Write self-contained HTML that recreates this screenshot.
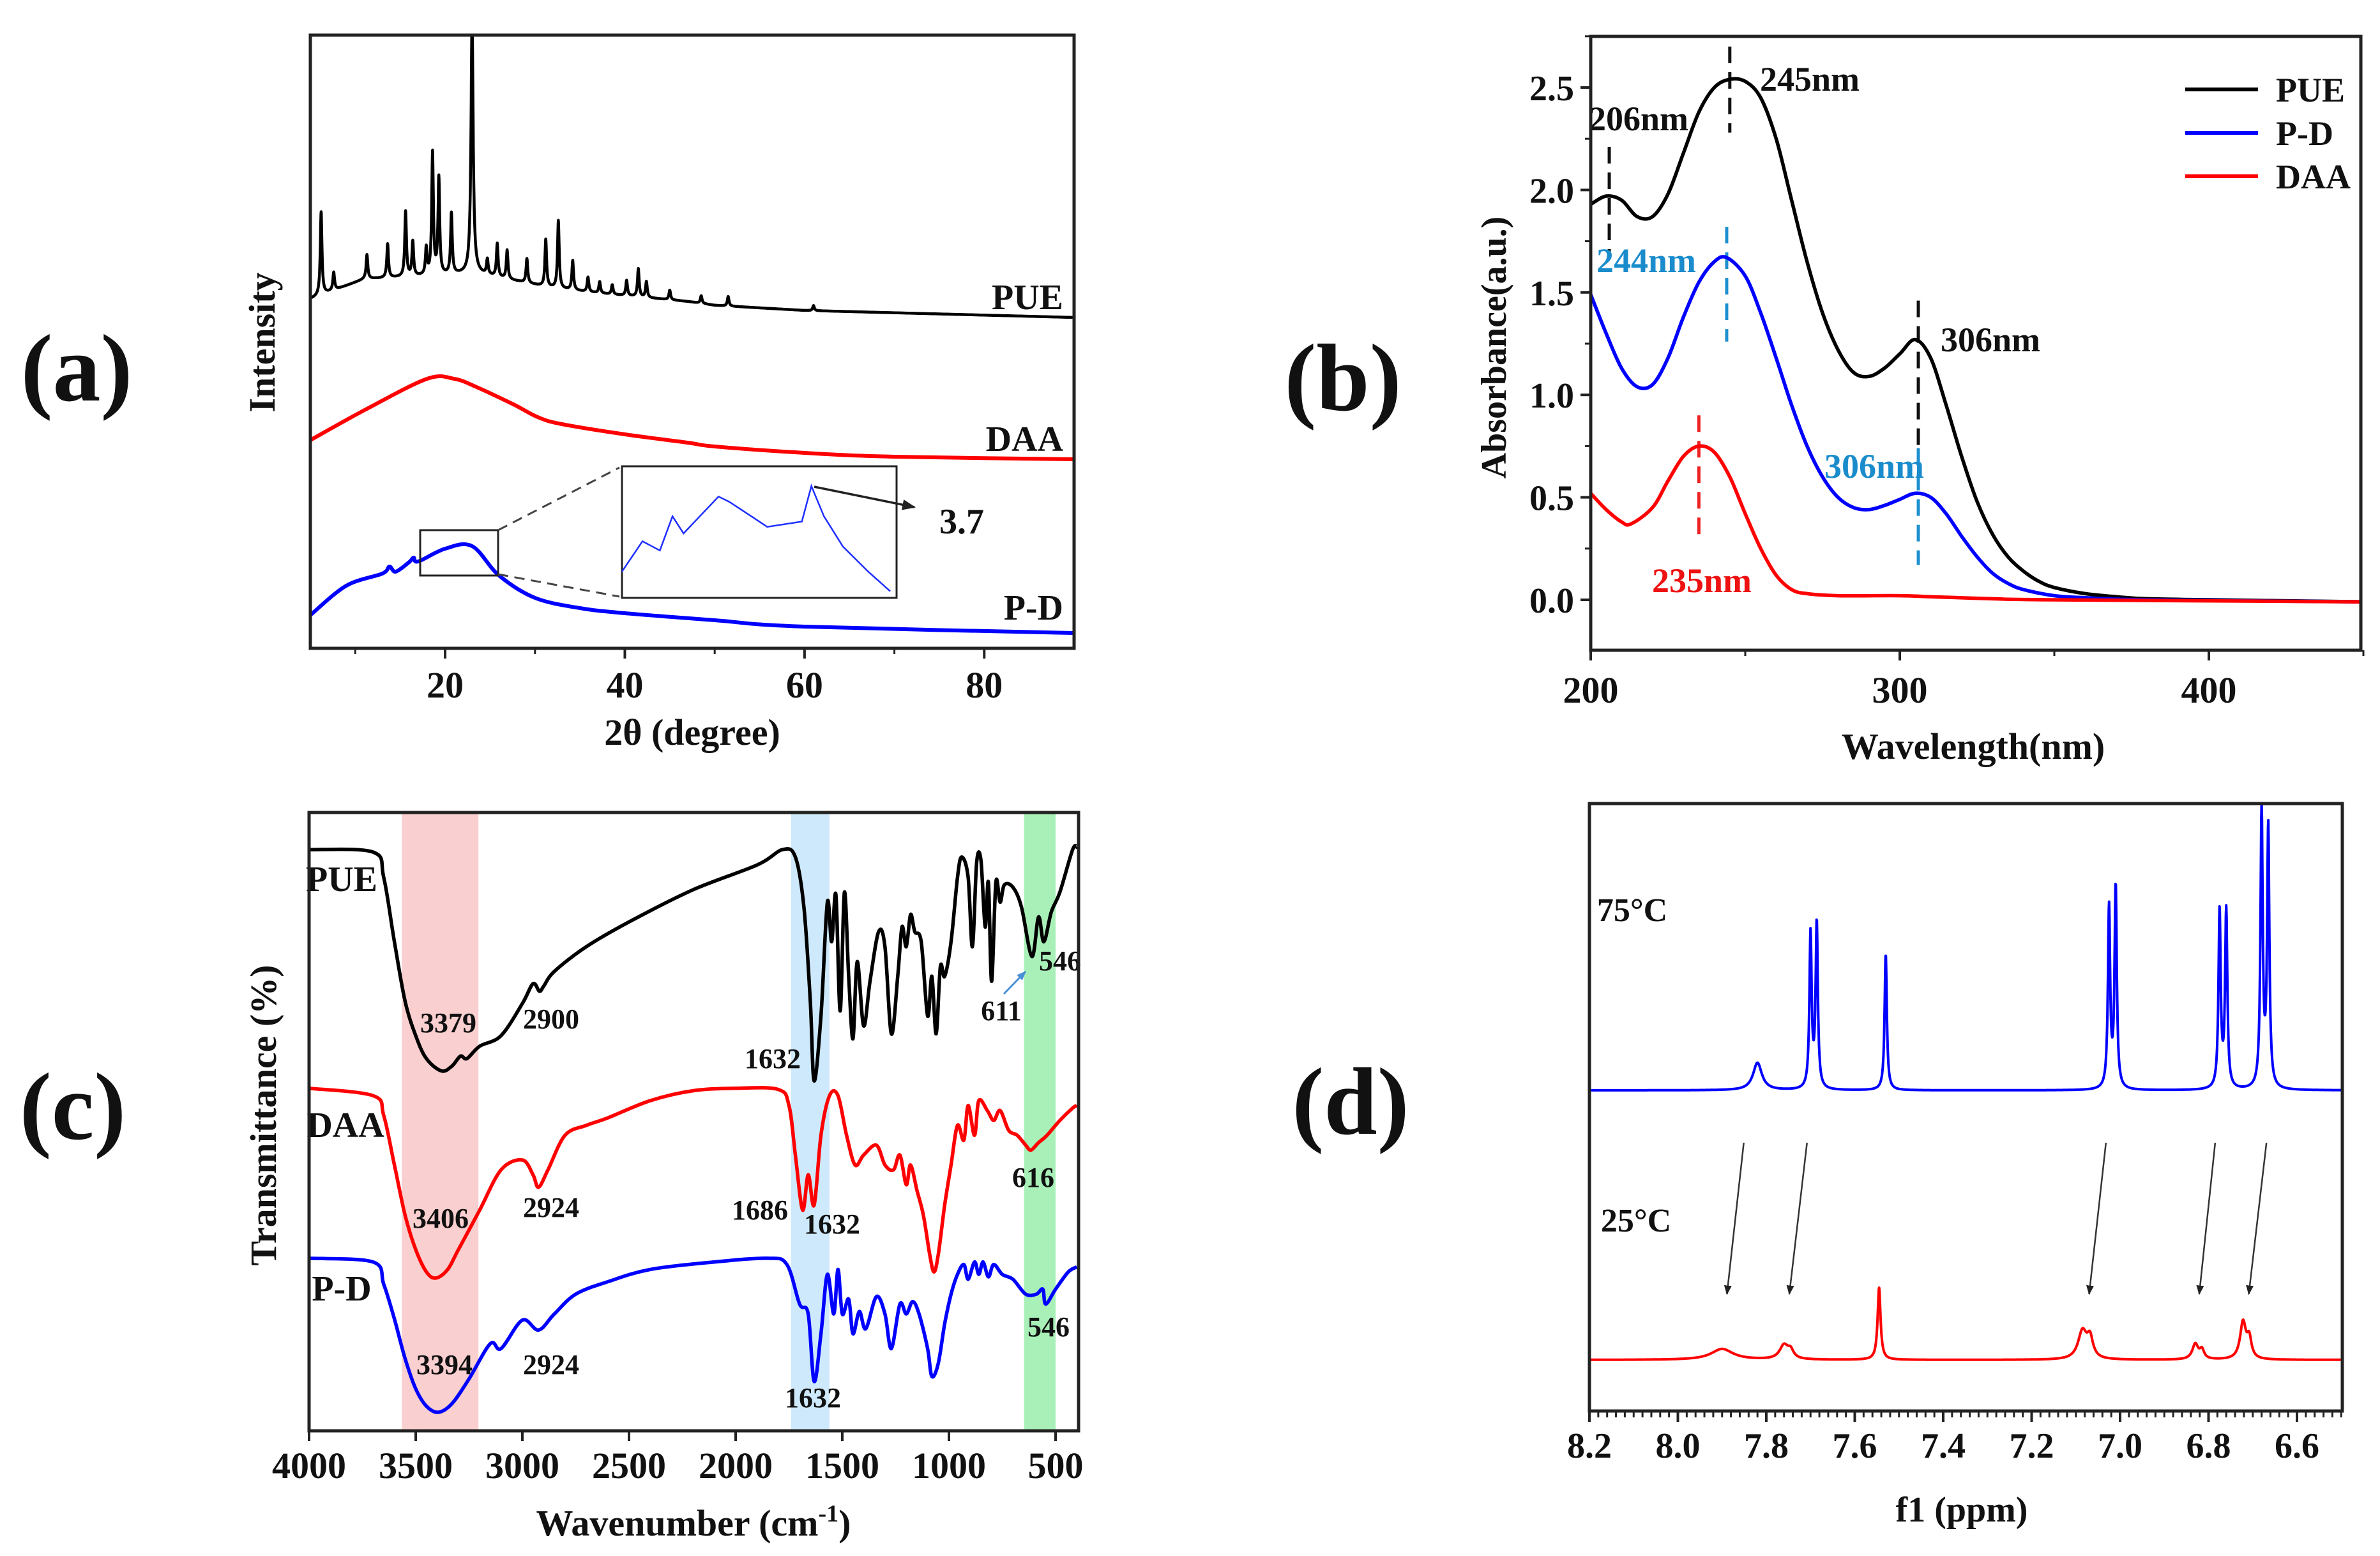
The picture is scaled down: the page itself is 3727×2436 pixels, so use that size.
<!DOCTYPE html>
<html><head><meta charset="utf-8"><title>Figure</title>
<style>
html,body{margin:0;padding:0;background:#fff;}
svg{display:block;font-family:"Liberation Serif",serif;font-weight:bold;}
</style></head>
<body>
<svg id="fig" xmlns="http://www.w3.org/2000/svg" width="3727" height="2436" viewBox="0 0 3727 2436">
<defs>
<clipPath id="clipA"><rect x="486" y="55" width="1196" height="960"/></clipPath>
<clipPath id="clipB"><rect x="2491" y="57" width="1206" height="961"/></clipPath>
<clipPath id="clipC"><rect x="484" y="1272" width="1205" height="968"/></clipPath>
<clipPath id="clipD"><rect x="2489" y="1258" width="1179" height="951"/></clipPath>
<marker id="arrK" viewBox="0 0 10 10" refX="9" refY="5" markerWidth="6" markerHeight="6" orient="auto"><path d="M0,1 L10,5 L0,9 z" fill="#222"/></marker>
<marker id="arrB" viewBox="0 0 10 10" refX="9" refY="5" markerWidth="5" markerHeight="5" orient="auto"><path d="M0,1 L10,5 L0,9 z" fill="#4a90d9"/></marker>
</defs>
</svg>
<script>
// ---------- Panel (a) XRD data ----------
const aTicks = [20, 40, 60, 80];
const aMinor = [10, 30, 50, 70];
const pueBaseDeg = [5, 11, 18, 23.5, 31.5, 37, 47, 50, 60, 90];
const pueBaseVal = [547, 578, 583, 587, 565, 556, 543, 537, 529, 518];
const puePeakPos = [6.2, 7.6, 11.3, 13.6, 15.6, 16.4, 17.9, 18.6, 19.3, 20.7, 23.0, 24.7, 25.8, 26.9, 29.1, 31.2, 32.6, 34.2, 35.9, 37.2, 38.6, 40.2, 41.5, 42.4, 45, 48.5, 51.5, 61];
const puePeakH   = [130, 28, 38, 53, 102, 54, 42, 191, 151, 95, 400, 24, 52, 45, 38, 74, 106, 46, 23, 18, 15, 24, 44, 25, 15, 12, 15, 8];
const daaDeg = [5, 11.3, 18, 21, 23.5, 27.6, 30.3, 33, 40, 47, 50, 60, 70, 90];
const daaVal = [326, 375, 422, 422, 409, 382, 362, 351, 335, 322, 316, 306, 300, 296];
const pdDeg = [5, 9, 13, 13.8, 14.5, 16, 16.5, 17, 20, 23, 26, 30, 35, 40, 50, 60, 90];
const pdVal = [52, 98, 117, 128, 120, 135, 142, 136, 156, 160, 114, 79, 63, 55, 44, 34, 24];
const insetDeg = [17.0, 17.65, 18.2, 18.6, 18.95, 20.06, 20.4, 21.1, 21.6, 22.7, 23.0, 23.4, 24.0, 24.8, 25.5];
const insetVal = [20, 43, 36, 62, 49, 77, 73, 62, 54, 58, 85, 62, 39, 20, 5];

// ---------- Panel (b) UV data ----------
const bYTicks = [0.0, 0.5, 1.0, 1.5, 2.0, 2.5];
const bXTicks = [200, 300, 400];
const pueWl = [200,205,210,215,220,225,230,235,240,245,250,255,260,265,270,275,280,285,290,295,300,305,310,315,320,325,330,335,340,345,350,360,370,380,400,450];
const pueAbs = [1.93,1.97,1.95,1.87,1.87,1.98,2.18,2.38,2.50,2.54,2.53,2.45,2.25,1.95,1.65,1.40,1.22,1.11,1.09,1.13,1.20,1.27,1.18,0.95,0.70,0.48,0.32,0.21,0.14,0.09,0.06,0.03,0.015,0.005,0,-0.01];
const pdWl = [200,205,210,215,220,225,230,235,240,244,250,255,260,265,270,275,280,285,290,295,300,305,310,315,320,325,330,335,340,350,360,380,450];
const pdAbs = [1.49,1.30,1.13,1.04,1.05,1.18,1.38,1.55,1.65,1.67,1.58,1.40,1.18,0.95,0.75,0.60,0.50,0.45,0.44,0.46,0.49,0.52,0.50,0.42,0.31,0.21,0.13,0.08,0.05,0.02,0.01,0,-0.01];
const daaWl = [200,205,210,213,220,225,230,235,240,245,250,255,260,265,270,280,300,310,330,350,450];
const daaAbs = [0.52,0.44,0.38,0.37,0.45,0.58,0.70,0.75,0.72,0.60,0.42,0.25,0.12,0.05,0.03,0.02,0.02,0.015,0.005,0,-0.01];

// ---------- Panel (c) FTIR data ----------
const cTicks = [4000, 3500, 3000, 2500, 2000, 1500, 1000, 500];
const irPueWn = [4000,3700,3650,3600,3550,3500,3450,3379,3330,3290,3260,3200,3100,3000,2950,2920,2900,2850,2700,2500,2200,1900,1780,1720,1680,1650,1632,1600,1570,1550,1530,1510,1490,1470,1450,1430,1400,1370,1330,1300,1270,1240,1220,1200,1180,1160,1130,1100,1080,1060,1040,1020,990,960,940,910,890,870,850,830,815,800,780,760,740,700,660,611,580,555,520,480,420,400];
const irPueT = [94.0,93.6,89.5,79.1,69.5,63.9,60.2,58.2,59.0,60.6,60.2,62.2,63.9,69.1,72.3,71.1,71.9,74.3,78.3,82.3,87.5,91.5,94.0,92.8,84.7,69.5,56.6,67.1,85.5,79.1,86.7,67.9,87.1,73.5,63.4,75.9,65.5,72.7,80.7,78.3,64.2,73.5,81.5,78.3,83.5,80.7,79.1,67.1,73.5,64.2,75.1,73.5,79.1,89.5,92.8,89.5,78.3,91.9,92.3,81.5,88.7,72.7,88.7,85.5,88.3,87.9,84.7,76.7,83.1,79.1,83.9,87.1,94.0,94.4];
const irDaaWn = [4000,3700,3650,3600,3550,3500,3450,3406,3350,3300,3200,3100,3000,2950,2924,2880,2800,2700,2600,2400,2200,2000,1800,1750,1720,1686,1660,1632,1600,1560,1520,1480,1440,1400,1340,1300,1260,1230,1200,1180,1150,1120,1090,1070,1050,1020,990,960,930,910,880,860,820,790,760,720,680,640,616,580,540,480,420,400];
const irDaaT = [55.4,54.2,51.0,43.0,34.9,29.3,25.7,24.7,26.1,29.3,35.7,42.2,43.8,41.4,39.4,42.2,47.8,49.4,50.6,53.4,55.0,55.4,55.2,52.6,44.6,35.7,41.4,36.5,47.8,54.2,54.2,47.8,43.0,44.6,46.2,43.0,42.2,44.6,39.8,43.0,38.9,34.9,28.5,25.7,28.5,36.5,43.0,49.4,47.0,52.6,47.8,53.4,51.8,50.2,51.8,48.6,47.8,46.2,45.4,46.6,47.8,50.2,52.2,52.6];
const irPdWn = [4000,3700,3650,3600,3550,3500,3450,3394,3330,3250,3150,3100,3000,2924,2850,2750,2600,2400,2100,1850,1760,1700,1660,1632,1600,1570,1540,1520,1500,1470,1450,1420,1390,1340,1300,1270,1230,1200,1170,1140,1100,1080,1050,1020,990,960,930,910,880,860,840,815,790,750,700,640,590,560,546,500,440,400];
const irPdT = [27.9,27.3,23.7,18.1,11.7,6.8,4.0,3.0,4.4,8.4,14.1,13.3,17.9,16.3,18.9,22.1,24.1,26.1,27.3,27.9,26.9,20.5,18.9,8.0,15.7,25.3,18.9,26.1,18.9,21.3,15.7,19.3,16.5,21.7,18.9,13.3,20.5,18.9,20.9,18.9,13.3,8.8,10.9,17.3,22.1,25.3,26.9,24.5,27.3,25.3,27.3,24.9,26.9,25.3,24.5,22.1,22.1,22.9,20.5,22.9,25.7,26.5];

// ---------- Panel (d) NMR data ----------
const dTicks = [8.2, 8.0, 7.8, 7.6, 7.4, 7.2, 7.0, 6.8, 6.6];
const hotPos = [7.82, 7.700, 7.686, 7.530, 7.025, 7.010, 6.775, 6.760, 6.680, 6.665];
const hotH   = [43, 242, 260, 214, 284, 317, 278, 278, 435, 408];
const hotW   = [0.012, 0.003, 0.003, 0.003, 0.003, 0.003, 0.003, 0.003, 0.003, 0.003];
const coldPos = [7.90, 7.76, 7.745, 7.545, 7.085, 7.068, 6.83, 6.815, 6.722, 6.708];
const coldH   = [17, 22, 12, 113, 44, 30, 24, 14, 58, 30];
const coldW   = [0.03, 0.012, 0.008, 0.004, 0.012, 0.008, 0.008, 0.006, 0.008, 0.006];
const hotOffset = 502;
const coldOffset = 80;
const arrowFrom = [7.851, 7.708, 7.032, 6.785, 6.669];
const arrowTo   = [7.889, 7.748, 7.070, 6.821, 6.709];

// ---------- helpers ----------
const NS = 'http://www.w3.org/2000/svg';
const svg = document.getElementById('fig');
function mk(tag, attrs, parent) {
  const e = document.createElementNS(NS, tag);
  for (const k in attrs) e.setAttribute(k, attrs[k]);
  (parent || svg).appendChild(e);
  return e;
}
function txt(s, x, y, size, anchor, fill, parent) {
  const t = mk('text', {x: x, y: y, 'font-size': size, 'text-anchor': anchor || 'middle', fill: fill || '#111'}, parent);
  t.textContent = s;
  return t;
}
function interp(xs, ys, x) {
  if (x <= xs[0]) return ys[0];
  for (let i = 1; i < xs.length; i++) {
    if (x <= xs[i]) { const t = (x - xs[i-1]) / (xs[i] - xs[i-1]); return ys[i-1] + t * (ys[i] - ys[i-1]); }
  }
  return ys[ys.length - 1];
}
function crPath(pts) {
  let d = 'M' + pts[0][0].toFixed(1) + ',' + pts[0][1].toFixed(1);
  for (let i = 0; i < pts.length - 1; i++) {
    const p0 = pts[i-1] || pts[i], p1 = pts[i], p2 = pts[i+1], p3 = pts[i+2] || p2;
    const c1 = [p1[0] + (p2[0]-p0[0])/6, p1[1] + (p2[1]-p0[1])/6];
    const c2 = [p2[0] - (p3[0]-p1[0])/6, p2[1] - (p3[1]-p1[1])/6];
    d += 'C' + c1[0].toFixed(1) + ',' + c1[1].toFixed(1) + ' ' + c2[0].toFixed(1) + ',' + c2[1].toFixed(1) + ' ' + p2[0].toFixed(1) + ',' + p2[1].toFixed(1);
  }
  return d;
}
function polyPath(pts) {
  return 'M' + pts.map(p => p[0].toFixed(1) + ',' + p[1].toFixed(1)).join('L');
}

// ================= Panel (a) =================
const gA = mk('g', {});


const xA = d => 486 + (d - 5) * (1196 / 85);
const yA = v => 1015 - v;
const lblA = txt('(a)', 120, 627, 150, 'middle', '#111', gA);



const gAc = mk('g', {'clip-path': 'url(#clipA)'}, gA);
let puePts = [];
for (let d = 5; d <= 90.001; d += 0.02) {
  let v = interp(pueBaseDeg, pueBaseVal, d);
  for (let i = 0; i < puePeakPos.length; i++) {
    const w = puePeakPos[i] === 23.0 ? 0.14 : 0.11;
    const u = (d - puePeakPos[i]) / w;
    v += puePeakH[i] / (1 + u * u);
  }
  puePts.push([xA(d), yA(v)]);
}
const pueA = mk('path', {d: polyPath(puePts), fill: 'none', stroke: '#000', 'stroke-width': 4.5, 'stroke-linejoin': 'round'}, gAc);


const daaA = mk('path', {d: crPath(daaDeg.map((d, i) => [xA(d), yA(daaVal[i])])), fill: 'none', stroke: '#ff0000', 'stroke-width': 6}, gAc);


const pdA = mk('path', {d: crPath(pdDeg.map((d, i) => [xA(d), yA(pdVal[i])])), fill: 'none', stroke: '#0000ff', 'stroke-width': 6}, gAc);



const smallBox = mk('rect', {x: 658, y: 830, width: 122, height: 71, fill: 'none', stroke: '#222', 'stroke-width': 3}, gA);


const dl1 = mk('line', {x1: 780, y1: 830, x2: 970, y2: 732, stroke: '#444', 'stroke-width': 3, 'stroke-dasharray': '16,10'}, gA);


const dl2 = mk('line', {x1: 780, y1: 899, x2: 970, y2: 934, stroke: '#444', 'stroke-width': 3, 'stroke-dasharray': '16,10'}, gA);


const inset = mk('rect', {x: 974, y: 730, width: 430, height: 206, fill: '#fff', stroke: '#222', 'stroke-width': 3}, gA);


const xI = d => 974 + (d - 17) * (430 / 8.7);
const yI = v => 936 - v * 2.06;
const insetPath = mk('path', {d: polyPath(insetDeg.map((d, i) => [xI(d), yI(insetVal[i])])), fill: 'none', stroke: '#1f2fff', 'stroke-width': 2.5}, gA);


const arrA = mk('line', {x1: 1275, y1: 762, x2: 1432, y2: 794, stroke: '#222', 'stroke-width': 3.5, 'marker-end': 'url(#arrK)'}, gA);


const t37 = txt('3.7', 1506, 835, 56, 'middle', '#111', gA);



const lPue = txt('PUE', 1665, 484, 56, 'end', '#111', gA);


const lDaa = txt('DAA', 1665, 706, 56, 'end', '#111', gA);


const lPd = txt('P-D', 1665, 970, 56, 'end', '#111', gA);



const boxA = mk('rect', {x: 486, y: 55, width: 1196, height: 960, fill: 'none', stroke: '#222', 'stroke-width': 5}, gA);


aTicks.forEach(t => {
  const tk = mk('line', {x1: xA(t), y1: 1015, x2: xA(t), y2: 1031, stroke: '#222', 'stroke-width': 4}, gA);
  
  
  const tl = txt(String(t), xA(t), 1092, 58, 'middle', '#111', gA);
  
  
});
aMinor.forEach(t => {
  const tk = mk('line', {x1: xA(t), y1: 1015, x2: xA(t), y2: 1024, stroke: '#222', 'stroke-width': 3}, gA);
  
  
});
const xtA = txt('2θ (degree)', 1084, 1166, 58, 'middle', '#111', gA);


const ytA = txt('Intensity', 0, 0, 58, 'middle', '#111', gA);
ytA.setAttribute('transform', 'translate(430,536) rotate(-90)');



// ================= Panel (b) =================
const gB = mk('g', {});


const xB = w => 2491 + (w - 200) * 4.84;
const yB = a => 939 - a * 320.8;
const lblB = txt('(b)', 2103, 642, 150, 'middle', '#111', gB);


const gBc = mk('g', {'clip-path': 'url(#clipB)'}, gB);
const dashB = [
  [206, 2.21, 1.70, '#111'], [245, 2.70, 2.28, '#111'], [306, 1.46, 0.72, '#111'],
  [244, 1.82, 1.26, '#1e90d0'], [306, 0.74, 0.17, '#1e90d0'], [235, 0.90, 0.32, '#ee2222']
];
dashB.forEach(d => {
  const l = mk('line', {x1: xB(d[0]), y1: yB(d[1]), x2: xB(d[0]), y2: yB(d[2]), stroke: d[3], 'stroke-width': 5, 'stroke-dasharray': '26,14'}, gBc);
  
  
});
const cB1 = mk('path', {d: crPath(pueWl.map((w, i) => [xB(w), yB(pueAbs[i])])), fill: 'none', stroke: '#000', 'stroke-width': 5.5}, gBc);


const cB2 = mk('path', {d: crPath(pdWl.map((w, i) => [xB(w), yB(pdAbs[i])])), fill: 'none', stroke: '#0000ff', 'stroke-width': 5.5}, gBc);


const cB3 = mk('path', {d: crPath(daaWl.map((w, i) => [xB(w), yB(daaAbs[i])])), fill: 'none', stroke: '#ff0000', 'stroke-width': 5.5}, gBc);


const peakLbls = [
  ['206nm', 2566, 204, '#111'], ['245nm', 2834, 142, '#111'], ['306nm', 3117, 550, '#111'],
  ['244nm', 2578, 426, '#1a8ccc'], ['306nm', 2935, 748, '#1a8ccc'], ['235nm', 2665, 927, '#ee1111']
];
peakLbls.forEach(p => {
  const t = txt(p[0], p[1], p[2], 54, 'middle', p[3], gB);
  
  
});
const boxB = mk('rect', {x: 2491, y: 57, width: 1206, height: 961, fill: 'none', stroke: '#222', 'stroke-width': 5}, gB);


bYTicks.forEach(t => {
  const tk = mk('line', {x1: 2475, y1: yB(t), x2: 2491, y2: yB(t), stroke: '#222', 'stroke-width': 4}, gB);
  
  
  const tl = txt(t.toFixed(1), 2465, yB(t) + 20, 56, 'end', '#111', gB);
  
  
  const mt = mk('line', {x1: 2482, y1: yB(t + 0.25), x2: 2491, y2: yB(t + 0.25), stroke: '#222', 'stroke-width': 3}, gB);
  
  
});
bXTicks.forEach(t => {
  const tk = mk('line', {x1: xB(t), y1: 1018, x2: xB(t), y2: 1034, stroke: '#222', 'stroke-width': 4}, gB);
  
  
  const tl = txt(String(t), xB(t), 1100, 58, 'middle', '#111', gB);
  
  
  const mt = mk('line', {x1: xB(t + 50), y1: 1018, x2: xB(t + 50), y2: 1027, stroke: '#222', 'stroke-width': 3}, gB);
  
  
});
const xtB = txt('Wavelength(nm)', 3090, 1188, 58, 'middle', '#111', gB);


const ytB = txt('Absorbance(a.u.)', 0, 0, 56, 'middle', '#111', gB);
ytB.setAttribute('transform', 'translate(2358,544) rotate(-90)');


const legB = [['PUE', '#000', 140], ['P-D', '#0000ff', 208], ['DAA', '#ff0000', 276]];
legB.forEach(l => {
  const g = mk('g', {}, gB);
  
  
  mk('line', {x1: 3422, y1: l[2], x2: 3536, y2: l[2], stroke: l[1], 'stroke-width': 6}, g);
  txt(l[0], 3564, l[2] + 19, 54, 'start', '#111', g);
});

// ================= Panel (c) =================
const gC = mk('g', {});


const xC = w => 484 + (4000 - w) * 0.334;
const yC = v => 2240 - v * 9.68;
const lblC = txt('(c)', 114, 1783, 150, 'middle', '#111', gC);


const bands = [[3565, 3206, '#f9cfcf', 'band-oh'], [1740, 1560, '#cde9fb', 'band-co'], [648, 500, '#a8f0b8', 'band-fingerprint']];
bands.forEach(b => {
  const r = mk('rect', {x: xC(b[0]), y: 1272, width: xC(b[1]) - xC(b[0]), height: 968, fill: b[2]}, gC);
  
  
});
const gCc = mk('g', {'clip-path': 'url(#clipC)'}, gC);
const cC1 = mk('path', {d: crPath(irPueWn.map((w, i) => [xC(w), yC(irPueT[i])])), fill: 'none', stroke: '#000', 'stroke-width': 5.5, 'stroke-linejoin': 'round'}, gCc);


const cC2 = mk('path', {d: crPath(irDaaWn.map((w, i) => [xC(w), yC(irDaaT[i])])), fill: 'none', stroke: '#ff0000', 'stroke-width': 5.5, 'stroke-linejoin': 'round'}, gCc);


const cC3 = mk('path', {d: crPath(irPdWn.map((w, i) => [xC(w), yC(irPdT[i])])), fill: 'none', stroke: '#0000ff', 'stroke-width': 5.5, 'stroke-linejoin': 'round'}, gCc);


const irLbls = [
  ['PUE', 535, 1395, 56], ['DAA', 541, 1780, 56], ['P-D', 535, 2036, 56],
  ['3379', 702, 1616, 44], ['2900', 863, 1610, 44], ['1632', 1210, 1672, 44], ['611', 1568, 1597, 44], ['546', 1660, 1519, 44],
  ['3406', 690, 1922, 44], ['2924', 863, 1905, 44], ['1686', 1190, 1909, 44], ['1632', 1303, 1931, 44], ['616', 1618, 1858, 44],
  ['3394', 696, 2151, 44], ['2924', 863, 2151, 44], ['1632', 1273, 2203, 44], ['546', 1642, 2092, 44]
];
irLbls.forEach(p => {
  const t = txt(p[0], p[1], p[2], p[3], 'middle', '#111', gC);
  
  
});
const arrC = mk('line', {x1: 1572, y1: 1556, x2: 1606, y2: 1521, stroke: '#4a90d9', 'stroke-width': 3, 'marker-end': 'url(#arrB)'}, gC);


const boxC = mk('rect', {x: 484, y: 1272, width: 1205, height: 968, fill: 'none', stroke: '#222', 'stroke-width': 5}, gC);


cTicks.forEach(t => {
  const tk = mk('line', {x1: xC(t), y1: 2240, x2: xC(t), y2: 2256, stroke: '#222', 'stroke-width': 4}, gC);
  
  
  const tl = txt(String(t), xC(t), 2314, 58, 'middle', '#111', gC);
  
  
});
const xtC = mk('text', {x: 1086, y: 2404, 'font-size': 58, 'text-anchor': 'middle', fill: '#111'}, gC);
xtC.innerHTML = 'Wavenumber (cm<tspan dy="-22" font-size="38">-1</tspan><tspan dy="22">)</tspan>';


const ytC = txt('Transmittance (%)', 0, 0, 58, 'middle', '#111', gC);
ytC.setAttribute('transform', 'translate(432,1746) rotate(-90)');



// ================= Panel (d) =================
const gD = mk('g', {});


const xD = p => 2489 + (8.2 - p) * 692.5;
const yD = v => 2209 - v;
const lblD = txt('(d)', 2115, 1775, 150, 'middle', '#111', gD);


const gDc = mk('g', {'clip-path': 'url(#clipD)'}, gD);
function nmrPts(pos, h, w, off) {
  const pts = [];
  for (let p = 8.2; p >= 6.49; p -= 0.0008) {
    let v = off;
    for (let i = 0; i < pos.length; i++) { const u = (p - pos[i]) / w[i]; v += h[i] / (1 + u * u); }
    pts.push([xD(p), yD(v)]);
  }
  return pts;
}
const hot = mk('path', {d: polyPath(nmrPts(hotPos, hotH, hotW, hotOffset)), fill: 'none', stroke: '#0000ff', 'stroke-width': 4, 'stroke-linejoin': 'round'}, gDc);


const cold = mk('path', {d: polyPath(nmrPts(coldPos, coldH, coldW, coldOffset)), fill: 'none', stroke: '#ff0000', 'stroke-width': 4, 'stroke-linejoin': 'round'}, gDc);


arrowFrom.forEach((p, i) => {
  const a = mk('line', {x1: xD(p), y1: 1789, x2: xD(arrowTo[i]), y2: 2026, stroke: '#333', 'stroke-width': 2.5, 'marker-end': 'url(#arrK)'}, gD);
  
  
});
const t75 = txt('75°C', 2556, 1442, 52, 'middle', '#111', gD);


const t25 = txt('25°C', 2562, 1928, 52, 'middle', '#111', gD);


const boxD = mk('rect', {x: 2489, y: 1258, width: 1179, height: 951, fill: 'none', stroke: '#222', 'stroke-width': 5}, gD);


for (let k = 0; k <= 85; k++) {
  const p = 8.2 - k * 0.02;
  if (k % 10 === 0) continue;
  const mt = mk('line', {x1: xD(p), y1: 2209, x2: xD(p), y2: 2219, stroke: '#222', 'stroke-width': 3}, gD);
  
  
}
dTicks.forEach(t => {
  const tk = mk('line', {x1: xD(t), y1: 2209, x2: xD(t), y2: 2226, stroke: '#222', 'stroke-width': 4}, gD);
  
  
  const tl = txt(t.toFixed(1), xD(t), 2282, 56, 'middle', '#111', gD);
  
  
});
const xtD = txt('f1 (ppm)', 3072, 2382, 56, 'middle', '#111', gD);


</script>
</body></html>
